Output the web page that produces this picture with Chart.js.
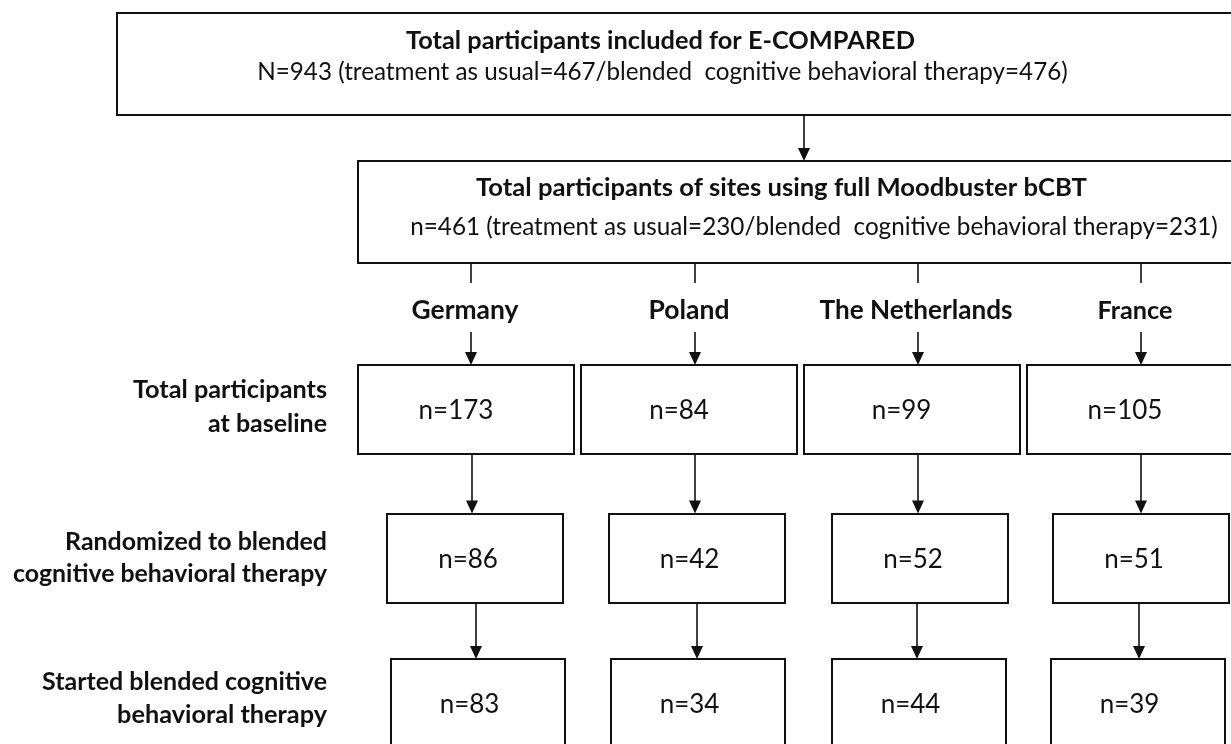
<!DOCTYPE html>
<html><head><meta charset="utf-8">
<script src="https://cdn.jsdelivr.net/npm/chart.js@4/dist/chart.umd.min.js"></script>
<style>
html,body{margin:0;padding:0;background:#fff;overflow:hidden}
#wrap{position:relative;width:1260px;height:744px}
</style></head>
<body><div id="wrap"><canvas id="c" width="1260" height="744"></canvas></div>
<script>
// ---- data ----
const countries = ['Germany', 'Poland', 'The Netherlands', 'France'];
const stageLabels = [
  ['Total participants', 'at baseline'],
  ['Randomized to blended', 'cognitive behavioral therapy'],
  ['Started blended cognitive', 'behavioral therapy']
];
const baselineN = [173, 84, 99, 105];
const randomizedN = [86, 42, 52, 51];
const startedN = [83, 34, 44, 39];
const totalTitle = 'Total participants included for E-COMPARED';
const totalCounts = [943, 467, 476];   // N, treatment as usual, bCBT
const siteTitle = 'Total participants of sites using full Moodbuster bCBT';
const siteCounts = [461, 230, 231];

// ---- layout (diagram units, mapped through the chart scales) ----
const FONT = 'Lato, "Open Sans", sans-serif';
const INK = '#111';
const layout = {
  top:  {x0:117, x1:1250, y0:13,  y1:115, tX:660.5, tY:49,  tW:509, sX:662.5, sY:80,  sW:811},
  site: {x0:358, x1:1250, y0:161, y1:263, tX:781.5, tY:196, tW:611, sX:814, sY:235, sW:808},
  arrowTopX: 804,
  colX: [471, 695, 918, 1141],
  tickY: [263, 283],
  countryY: 319, countryDX: [-6, -6, -2, -6], countryW: [107, 81, 193, 75],
  countryArrowY: [332, 365],
  rows: [
    {cx:[466, 689, 911.5, 1135],     w:216, yc:409.5, h:89, tdx:-10, labY:[398, 432], labW:[194, 119], arrowX:[472, 695, 918, 1141]},
    {cx:[475, 696.5, 920, 1141],     w:176, yc:558,   h:89, tdx:-7,  labY:[550, 582], labW:[262, 314], arrowX:[476, 697, 917, 1139]},
    {cx:[477.5, 697.5, 918.5, 1137.5], w:174, yc:703.5, h:89, tdx:-8, labY:[690, 723], labW:[285, 210]}
  ],
  labelRight: 327
};
const rowValues = [baselineN, randomizedN, startedN];

function arrow(ctx, x, y0, y1) {
  ctx.beginPath(); ctx.moveTo(x, y0); ctx.lineTo(x, y1 - 12); ctx.stroke();
  ctx.beginPath(); ctx.moveTo(x - 6, y1 - 13); ctx.lineTo(x + 6, y1 - 13); ctx.lineTo(x, y1); ctx.closePath(); ctx.fill();
}
// draw text scaled so that it spans the width
function fitText(ctx, text, weight, x, y, w) {
  ctx.font = weight + ' 100px ' + FONT;
  const size = 100 * w / ctx.measureText(text).width;
  ctx.font = weight + ' ' + size.toFixed(2) + 'px ' + FONT;
  ctx.fillText(text, x, y);
}

const flowPlugin = {
  id: 'flow',
  afterDatasetsDraw(chart) {
    const ctx = chart.ctx, X = v => chart.scales.x.getPixelForValue(v), Y = v => chart.scales.y.getPixelForValue(v);
    ctx.save();
    ctx.strokeStyle = INK; ctx.fillStyle = INK;
    ctx.textBaseline = 'alphabetic';
    // top boxes
    for (const [b, title, cnt, lbl] of [[layout.top, totalTitle, totalCounts, 'N'], [layout.site, siteTitle, siteCounts, 'n']]) {
      ctx.lineWidth = 2;
      ctx.strokeRect(X(b.x0), Y(b.y0), X(b.x1) - X(b.x0), Y(b.y1) - Y(b.y0));
      ctx.textAlign = 'center';
      fitText(ctx, title, 'bold', X(b.tX), Y(b.tY), b.tW);
      fitText(ctx, lbl + '=' + cnt[0] + ' (treatment as usual=' + cnt[1] + '/blended  cognitive behavioral therapy=' + cnt[2] + ')', 'normal', X(b.sX), Y(b.sY), b.sW);
    }
    ctx.lineWidth = 1.6;
    arrow(ctx, X(layout.arrowTopX), Y(layout.top.y1), Y(layout.site.y0));
    // ticks + country labels + arrows
    countries.forEach((c, i) => {
      const x = X(layout.colX[i]);
      ctx.beginPath(); ctx.moveTo(x, Y(layout.tickY[0])); ctx.lineTo(x, Y(layout.tickY[1])); ctx.stroke();
      ctx.textAlign = 'center';
      fitText(ctx, c, 'bold', X(layout.colX[i] + layout.countryDX[i]), Y(layout.countryY), layout.countryW[i]);
      arrow(ctx, x, Y(layout.countryArrowY[0]), Y(layout.countryArrowY[1]));
    });
    // rows
    layout.rows.forEach((r, ri) => {
      const meta = chart.getDatasetMeta(ri);
      meta.data.forEach((pt, i) => {
        const x0 = pt.x - r.w / 2, y0 = pt.y - r.h / 2;
        ctx.lineWidth = 2;
        ctx.strokeRect(Math.round(x0), Math.round(y0), r.w, r.h);
        ctx.font = '26px ' + FONT; ctx.textAlign = 'center';
        ctx.fillText('n=' + chart.data.datasets[ri].data[i].n, pt.x + r.tdx, pt.y + 9.5);
        if (r.arrowX) {
          const nr = layout.rows[ri + 1];
          ctx.lineWidth = 1.6;
          arrow(ctx, X(r.arrowX[i]), Y(r.yc + r.h / 2), Y(nr.yc - nr.h / 2));
        }
      });
      ctx.textAlign = 'right';
      stageLabels[ri].forEach((t, li) => fitText(ctx, t, 'bold', X(layout.labelRight), Y(r.labY[li]), r.labW[li]));
    });
    ctx.restore();
  }
};

const datasets = rowValues.map((vals, ri) => ({
  label: stageLabels[ri].join(' '),
  data: vals.map((n, i) => ({x: layout.rows[ri].cx[i], y: layout.rows[ri].yc, n})),
  pointRadius: 0, showLine: false
}));

new Chart(document.getElementById('c'), {
  type: 'scatter',
  data: {datasets},
  options: {
    responsive: false, animation: false,
    layout: {padding: 0},
    plugins: {legend: {display: false}, tooltip: {enabled: false}},
    scales: {
      x: {type: 'linear', min: 0, max: 1260, display: false},
      y: {type: 'linear', min: 0, max: 744, reverse: true, display: false}
    }
  },
  plugins: [flowPlugin]
});
</script>
</body></html>
